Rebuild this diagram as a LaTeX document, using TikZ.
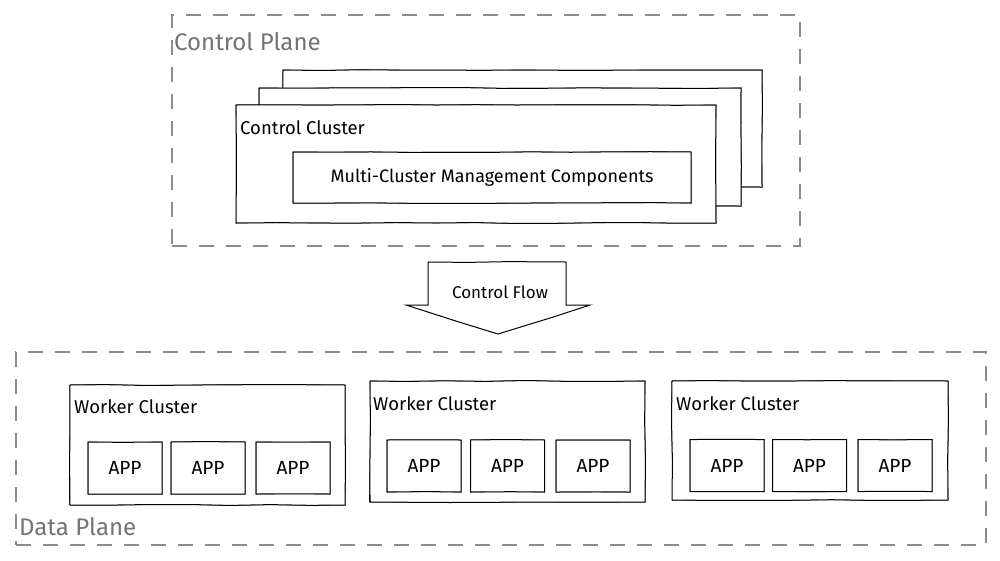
\documentclass[tikz,border=0pt]{standalone}
\usepackage{fontspec}
\setmainfont{Fira Sans}
\usetikzlibrary{decorations.pathmorphing}

\tikzset{
  sketch/.style={draw, line width=1pt, fill=white, inner sep=0pt,
    decorate, decoration={random steps, segment length=40pt, amplitude=0.5pt},
    preaction={draw, line width=0.7pt, decorate,
      decoration={random steps, segment length=55pt, amplitude=0.9pt}}},
  plane/.style={draw=black!45, line width=1.6pt, dash pattern=on 15pt off 12pt, inner sep=0pt},
  planelabel/.style={text=black!55, font=\fontsize{24}{28}\selectfont, anchor=base west, inner sep=0pt},
  boxlabel/.style={font=\fontsize{18.5}{22}\selectfont, anchor=base west, inner sep=0pt},
  app/.style={sketch, minimum width=74pt, minimum height=52pt, font=\fontsize{19}{22}\selectfont},
}

\begin{document}
\begin{tikzpicture}[x=1pt, y=-1pt]
    \useasboundingbox (0,0) rectangle (1000,560);

    % control plane
    \node[plane, minimum width=628pt, minimum height=231pt] (cplane) at (486,130.5) {};
    \node[planelabel] (cplanelabel) at (174,50) {Control Plane};

    \node[sketch, minimum width=479pt, minimum height=117pt] (cback) at (522.5,128.5) {};
    \node[sketch, minimum width=482pt, minimum height=118pt] (cmid) at (500,147) {};
    \node[sketch, minimum width=480pt, minimum height=118pt] (cfront) at (476,164) {};
    \node[boxlabel] (cfrontlabel) at (240,134) {Control Cluster};
    \node[sketch, minimum width=398pt, minimum height=51pt, font=\fontsize{18}{21}\selectfont] (mcm) at (492,177.5) {Multi-Cluster Management Components};

    % control flow arrow
    \draw[line width=1pt, fill=white, decorate, decoration={random steps, segment length=40pt, amplitude=0.5pt}]
        (428,262) -- (566,262) -- (566,305) -- (590,305) -- (498,334) -- (406,305) -- (428,305) -- cycle;
    \node[font=\fontsize{17}{20}\selectfont] (flow) at (500,292) {Control Flow};

    % data plane
    \node[plane, minimum width=970pt, minimum height=193pt] (dplane) at (501,448.5) {};
    \node[planelabel] (dplanelabel) at (19,535) {Data Plane};

    \node[sketch, minimum width=275pt, minimum height=120pt] (wc1) at (207.5,445) {};
    \node[boxlabel] (wc1label) at (74,413) {Worker Cluster};
    \node[app] (app11) at (125,468) {APP};
    \node[app] (app12) at (208,468) {APP};
    \node[app] (app13) at (293,468) {APP};

    \node[sketch, minimum width=275pt, minimum height=121pt] (wc2) at (507.5,441.5) {};
    \node[boxlabel] (wc2label) at (373,410) {Worker Cluster};
    \node[app] (app21) at (424,466) {APP};
    \node[app] (app22) at (507.5,466) {APP};
    \node[app] (app23) at (593,466) {APP};

    \node[sketch, minimum width=276pt, minimum height=119pt] (wc3) at (810,440.5) {};
    \node[boxlabel] (wc3label) at (676,410) {Worker Cluster};
    \node[app] (app31) at (727,465.5) {APP};
    \node[app] (app32) at (809.5,465.5) {APP};
    \node[app] (app33) at (895,465.5) {APP};
\end{tikzpicture}
\end{document}
